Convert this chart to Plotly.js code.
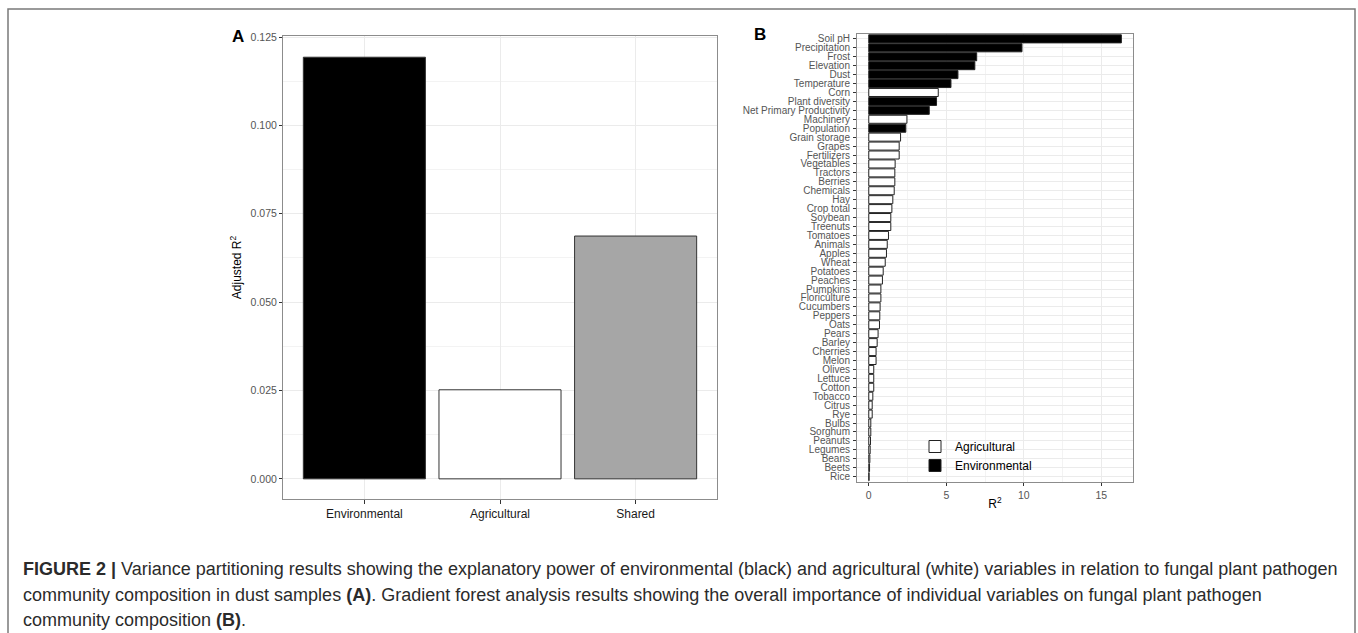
<!DOCTYPE html>
<html><head><meta charset="utf-8">
<script src="https://cdn.plot.ly/plotly-3.0.1.min.js"></script>
<style>html,body{margin:0;padding:0;background:#fff}#chart{width:1358px;height:633px}</style>
</head><body><div id="chart"></div>
<script>
// Panel A: variance partitioning
const partitionCategories = ['Environmental', 'Agricultural', 'Shared'];
const partitionValues = [0.1193, 0.0252, 0.0687];
const partitionTicks = [0, 0.025, 0.05, 0.075, 0.1, 0.125];

// Panel B: gradient forest importance (top to bottom)
const variableNames = ['Soil pH','Precipitation','Frost','Elevation','Dust','Temperature','Corn','Plant diversity','Net Primary Productivity','Machinery','Population','Grain storage','Grapes','Fertilizers','Vegetables','Tractors','Berries','Chemicals','Hay','Crop total','Soybean','Treenuts','Tomatoes','Animals','Apples','Wheat','Potatoes','Peaches','Pumpkins','Floriculture','Cucumbers','Peppers','Oats','Pears','Barley','Cherries','Melon','Olives','Lettuce','Cotton','Tobacco','Citrus','Rye','Bulbs','Sorghum','Peanuts','Legumes','Beans','Beets','Rice'];
const variableImportance = [16.29,9.88,6.96,6.84,5.75,5.30,4.48,4.37,3.90,2.46,2.39,2.05,1.96,1.96,1.70,1.68,1.68,1.64,1.55,1.49,1.42,1.42,1.27,1.19,1.14,1.06,0.93,0.88,0.78,0.78,0.73,0.71,0.69,0.60,0.54,0.47,0.47,0.32,0.32,0.32,0.26,0.22,0.22,0.13,0.13,0.11,0.09,0.07,0.05,0.02];
const environmentalVariables = ['Soil pH','Precipitation','Frost','Elevation','Dust','Temperature','Plant diversity','Net Primary Productivity','Population'];
const groupNames = ['Agricultural', 'Environmental'];
const importanceTicks = [0, 5, 10, 15];

const W = 1358, H = 633;
const px = v => v / W;
const py = v => 1 - v / H;
const FONT = 'Liberation Sans, Arial, Helvetica, sans-serif';
const GRID = '#ebebeb';
const MINOR = '#f3f3f3';

const groupOf = n => environmentalVariables.includes(n) ? 'Environmental' : 'Agricultural';
const groupFill = {Agricultural: '#ffffff', Environmental: '#000000'};

const traces = [{
  type: 'bar', x: partitionCategories, y: partitionValues,
  xaxis: 'x', yaxis: 'y', width: 0.9, showlegend: false,
  marker: {color: ['#000000', '#ffffff', '#a6a6a6'], line: {color: '#333333', width: 1}},
  hoverinfo: 'x+y'
}];
groupNames.forEach(g => {
  const idx = variableNames.map((n, i) => i).filter(i => groupOf(variableNames[i]) === g);
  traces.push({
    type: 'bar', orientation: 'h', name: g,
    y: idx.map(i => variableNames[i]), x: idx.map(i => variableImportance[i]),
    xaxis: 'x2', yaxis: 'y2', width: 0.9,
    marker: {color: groupFill[g], line: {color: '#222222', width: 1}}
  });
});

const caption = [
  '<b>FIGURE 2 |</b> Variance partitioning results showing the explanatory power of environmental (black) and agricultural (white) variables in relation to fungal plant pathogen',
  'community composition in dust samples <b>(A)</b>. Gradient forest analysis results showing the overall importance of individual variables on fungal plant pathogen',
  'community composition <b>(B)</b>.'
];
const captionY = [569, 595, 620];

const layout = {
  width: W, height: H, margin: {l: 0, r: 0, t: 0, b: 0},
  paper_bgcolor: '#ffffff', plot_bgcolor: '#ffffff',
  font: {family: FONT, color: '#000'},
  barmode: 'overlay',
  xaxis: {
    domain: [px(283), px(717)], anchor: 'y', type: 'category',
    range: [-0.6, 2.6], showgrid: true, gridcolor: GRID, gridwidth: 1,
    showline: true, linecolor: '#8c8c8c', linewidth: 1, mirror: true,
    ticks: 'outside', ticklen: 4, tickcolor: '#333', zeroline: false,
    tickfont: {size: 12, color: '#1a1a1a', family: FONT}
  },
  yaxis: {
    domain: [py(499), py(36)], anchor: 'x',
    range: [-0.0057, 0.1253], tickvals: partitionTicks, tickformat: '.3f',
    showgrid: true, gridcolor: GRID, gridwidth: 1, zeroline: false,
    minor: {dtick: 0.0125, tick0: 0, showgrid: true, gridcolor: MINOR, gridwidth: 1},
    showline: true, linecolor: '#8c8c8c', linewidth: 1, mirror: true,
    ticks: 'outside', ticklen: 3, tickcolor: '#333',
    tickfont: {size: 10.5, color: '#555555', family: FONT},
    title: {text: 'Adjusted R<sup>2</sup>', font: {size: 12, color: '#000', family: FONT}, standoff: 6}
  },
  xaxis2: {
    domain: [px(857), px(1133)], anchor: 'y2',
    range: [-0.76, 17.04], tickvals: importanceTicks,
    showgrid: true, gridcolor: GRID, gridwidth: 1, zeroline: false,
    minor: {dtick: 2.5, tick0: 0, showgrid: true, gridcolor: MINOR, gridwidth: 1},
    showline: true, linecolor: '#8c8c8c', linewidth: 1, mirror: true,
    ticks: 'outside', ticklen: 3, tickcolor: '#333',
    tickfont: {size: 10.5, color: '#555555', family: FONT},
    title: {text: 'R<sup>2</sup>', font: {size: 12, color: '#000', family: FONT}, standoff: 0}
  },
  yaxis2: {
    domain: [py(482), py(33.5)], anchor: 'x2', type: 'category',
    categoryorder: 'array', categoryarray: variableNames,
    tickmode: 'array', tickvals: variableNames, ticktext: variableNames,
    range: [49.6, -0.6],
    showgrid: true, gridcolor: GRID, gridwidth: 1,
    showline: true, linecolor: '#8c8c8c', linewidth: 1, mirror: true,
    ticks: 'outside', ticklen: 3, tickcolor: '#333', ticklabelstandoff: 1,
    tickfont: {size: 10, color: '#555555', family: FONT}
  },
  showlegend: true,
  legend: {
    x: px(915), y: py(432), xanchor: 'left', yanchor: 'top',
    bgcolor: 'rgba(0,0,0,0)', borderwidth: 0, traceorder: 'normal',
    font: {size: 12, color: '#000', family: FONT}, tracegroupgap: 0
  },
  annotations: [
    {text: '<b>A</b>', x: px(238), y: py(37), xref: 'paper', yref: 'paper', showarrow: false,
     font: {size: 17, color: '#000', family: FONT}, xanchor: 'center', yanchor: 'middle'},
    {text: '<b>B</b>', x: px(760), y: py(35), xref: 'paper', yref: 'paper', showarrow: false,
     font: {size: 17, color: '#000', family: FONT}, xanchor: 'center', yanchor: 'middle'}
  ].concat(caption.map((t, i) => ({
    text: t, x: px(21), y: py(captionY[i]), xref: 'paper', yref: 'paper', showarrow: false,
    xanchor: 'left', yanchor: 'middle', align: 'left',
    font: {size: 18, color: '#2b2b2b', family: FONT}
  }))),
  shapes: [
    {type: 'rect', xref: 'paper', yref: 'paper', x0: px(8), x1: px(1355), y0: -0.2, y1: py(9),
     line: {color: '#7a7a7a', width: 1.5}, fillcolor: 'rgba(0,0,0,0)', layer: 'below'}
  ]
};

Plotly.newPlot('chart', traces, layout, {displayModeBar: false, staticPlot: true});
</script>
</body></html>
